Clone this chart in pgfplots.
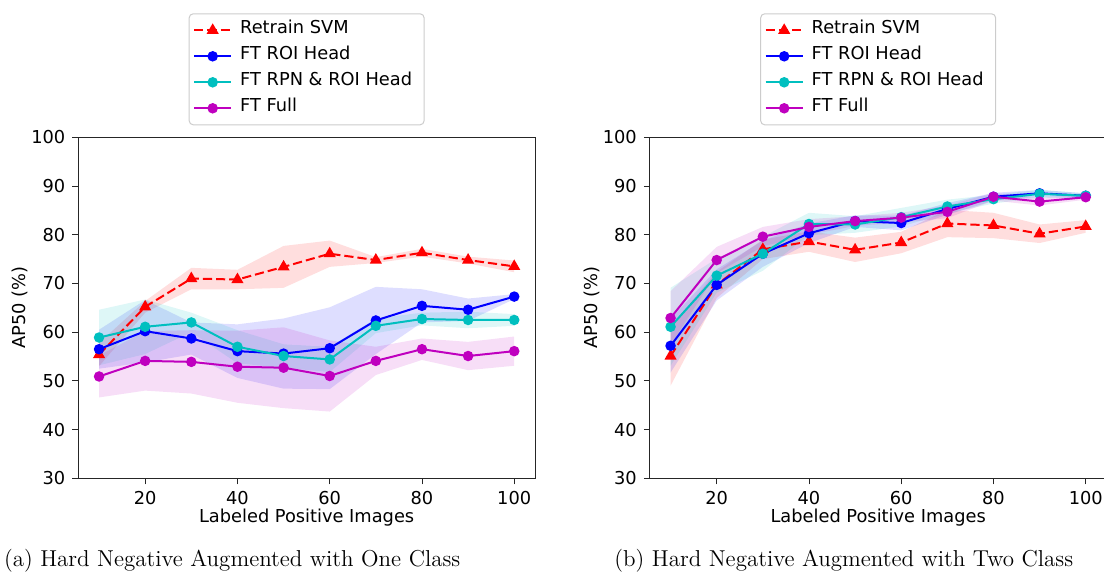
\documentclass[border=0pt]{standalone}
\usepackage{fontspec}
\usepackage{pgfplots}
\usepackage{pgfplotstable}
\pgfplotsset{compat=1.18}
\usepgfplotslibrary{fillbetween}
\newfontfamily\djv{DejaVu Sans}
\newcommand{\tfont}{\djv\fontsize{8.9}{10.7}\selectfont}
\definecolor{mplc}{rgb}{0,0.75,0.75}
\definecolor{mplm}{rgb}{0.75,0,0.75}

% one class (a)
\pgfplotstableread{
x m lo hi
10 55.4 53.0 57.8
20 65.2 64.0 66.4
30 71.0 68.8 73.2
40 70.8 68.8 72.8
50 73.4 69.1 77.7
60 76.1 73.4 78.8
70 74.8 74.2 75.4
80 76.3 75.5 77.1
90 74.8 74.1 75.5
100 73.5 72.3 74.7
}\svmA
\pgfplotstableread{
x m lo hi
10 56.5 52.5 60.5
20 60.2 53.8 66.6
30 58.7 55.4 62.0
40 56.1 50.6 61.6
50 55.6 48.4 62.8
60 56.7 48.3 65.1
70 62.4 55.5 69.3
80 65.4 62.0 68.8
90 64.6 62.3 66.9
100 67.3 66.8 67.8
}\roiA
\pgfplotstableread{
x m lo hi
10 58.9 53.2 64.6
20 61.1 55.5 66.7
30 62.0 60.0 64.0
40 57.0 53.6 60.4
50 55.1 52.7 57.5
60 54.4 51.8 57.0
70 61.3 59.8 62.8
80 62.7 61.4 64.0
90 62.5 60.8 64.2
100 62.5 61.3 63.7
}\rpnA
\pgfplotstableread{
x m lo hi
10 50.9 46.6 55.2
20 54.1 48.0 60.2
30 53.9 47.4 60.4
40 52.9 45.5 60.3
50 52.7 44.4 61.0
60 51.0 43.7 58.3
70 54.1 51.2 57.0
80 56.5 54.3 58.7
90 55.1 52.2 58.0
100 56.1 53.1 59.1
}\fullA

% two class (b)
\pgfplotstableread{
x m lo hi
10 55.1 49.0 61.2
20 69.7 67.0 72.4
30 77.0 75.0 79.0
40 78.6 76.5 80.7
50 76.9 74.4 79.4
60 78.4 76.2 80.6
70 82.3 79.5 85.1
80 81.9 79.3 84.5
90 80.2 78.3 82.1
100 81.7 80.4 83.0
}\svmB
\pgfplotstableread{
x m lo hi
10 57.2 51.7 62.7
20 69.7 66.5 72.9
30 76.1 73.4 78.8
40 80.3 78.3 82.3
50 82.8 81.6 84.0
60 82.4 80.9 83.9
70 85.3 84.1 86.5
80 87.8 87.0 88.6
90 88.5 87.8 89.2
100 88.0 87.5 88.5
}\roiB
\pgfplotstableread{
x m lo hi
10 61.1 53.1 69.1
20 71.6 68.1 75.1
30 76.1 72.6 79.6
40 82.2 79.9 84.5
50 82.1 80.4 83.8
60 83.6 81.7 85.5
70 85.8 84.4 87.2
80 87.3 86.4 88.2
90 88.4 87.6 89.2
100 88.0 87.5 88.5
}\rpnB
\pgfplotstableread{
x m lo hi
10 62.9 57.4 68.4
20 74.8 72.1 77.5
30 79.6 77.6 81.6
40 81.6 80.0 83.2
50 82.8 81.8 83.8
60 83.5 82.5 84.5
70 84.7 83.4 86.0
80 87.8 87.0 88.6
90 86.8 86.0 87.6
100 87.7 87.2 88.2
}\fullB

\newcommand{\band}[3]{%
  \addplot[draw=none, forget plot, name path=#3lo] table[x=x,y=lo]{#1};
  \addplot[draw=none, forget plot, name path=#3hi] table[x=x,y=hi]{#1};
  \addplot[fill=#2, fill opacity=0.13, draw=none, forget plot] fill between[of=#3lo and #3hi];
}

\pgfplotsset{
  apstyle/.style={
    scale only axis, width=228.35pt, height=170.5pt, anchor=south west,
    xmin=5.5, xmax=104.5, ymin=30, ymax=100,
    xtick={20,40,60,80,100}, ytick={30,40,...,100},
    xtick pos=bottom, ytick pos=left,
    tick align=outside, major tick length=3pt,
    tick style={black!85, line width=0.4pt},
    axis line style={black!85, line width=0.45pt},
    /pgf/number format/assume math mode=true,
    tick label style={font=\tfont},
    label style={font=\tfont},
    xlabel={Labeled Positive Images}, ylabel={AP50 (\%)},
    xlabel style={at={(axis description cs:0.5,0)}, anchor=base, yshift=-22.3pt},
    ylabel style={at={(axis description cs:-0.1277,0.5)}, anchor=center},
    legend style={at={(0.5,1)}, anchor=south, yshift=6pt, font=\tfont,
      draw=black!20, line width=0.5pt, rounded corners=2pt,
      inner xsep=2pt, inner ysep=1.75pt, row sep=0pt,
      nodes={inner xsep=4pt, inner ysep=0pt, text height=8.2pt, text depth=4.8pt}},
    legend cell align=left,
    legend image code/.code={%
      \draw[mark repeat=2,mark phase=2] plot coordinates {(0pt,0pt) (9.25pt,0pt) (18.5pt,0pt)};},
  },
  svm/.style={red, line width=1pt, dash pattern=on 4.6pt off 2pt, mark=triangle*, mark size=2.5pt, mark options={solid}},
  roi/.style={blue, line width=1pt, mark=*, mark size=2.1pt},
  rpn/.style={mplc, line width=1pt, mark=*, mark size=2.1pt},
  full/.style={mplm, line width=1pt, mark=*, mark size=2.1pt},
}

\begin{document}
\begin{tikzpicture}

\begin{axis}[apstyle, at={(39.15pt,48.85pt)}]
\band{\svmA}{red}{sa}
\band{\roiA}{blue}{ra}
\band{\rpnA}{mplc}{pa}
\band{\fullA}{mplm}{fa}
\addplot[svm] table[x=x,y=m]{\svmA};
\addplot[roi] table[x=x,y=m]{\roiA};
\addplot[rpn] table[x=x,y=m]{\rpnA};
\addplot[full] table[x=x,y=m]{\fullA};
\legend{Retrain SVM, FT ROI Head, FT RPN \& ROI Head, FT Full}
\end{axis}

\begin{axis}[apstyle, at={(324.9pt,48.85pt)}]
\band{\svmB}{red}{sb}
\band{\roiB}{blue}{rb}
\band{\rpnB}{mplc}{pb}
\band{\fullB}{mplm}{fb}
\addplot[svm] table[x=x,y=m]{\svmB};
\addplot[roi] table[x=x,y=m]{\roiB};
\addplot[rpn] table[x=x,y=m]{\rpnB};
\addplot[full] table[x=x,y=m]{\fullB};
\legend{Retrain SVM, FT ROI Head, FT RPN \& ROI Head, FT Full}
\end{axis}

\node[anchor=base west, inner sep=0pt, font=\fontsize{11.5}{13.5}\selectfont] at (1.8pt,4.5pt) {(a) Hard Negative Augmented with One Class};
\node[anchor=base west, inner sep=0pt, font=\fontsize{11.5}{13.5}\selectfont] at (307pt,4.5pt) {(b) Hard Negative Augmented with Two Class};

\pgfresetboundingbox
\path[use as bounding box] (0,0) rectangle (552pt,288pt);
\end{tikzpicture}
\end{document}
